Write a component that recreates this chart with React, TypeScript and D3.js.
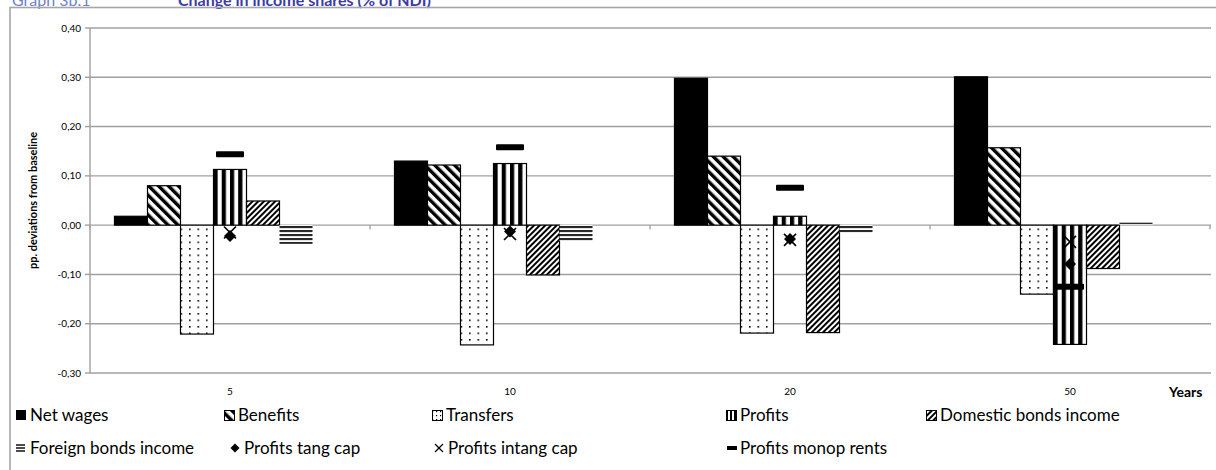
import React from "react";
import * as d3 from "d3";

const categories = ["5", "10", "20", "50"];
const netWages = [0.018, 0.13, 0.298, 0.301];
const benefits = [0.08, 0.122, 0.14, 0.157];
const transfers = [-0.221, -0.243, -0.219, -0.14];
const profits = [0.113, 0.125, 0.018, -0.242];
const domesticBonds = [0.049, -0.101, -0.218, -0.088];
const foreignBonds = [-0.038, -0.032, -0.015, 0.005];
const tangCap = [-0.022, -0.013, -0.028, -0.079];
const intangCap = [-0.015, -0.018, -0.03, -0.034];
const monopRents = [0.144, 0.158, 0.076, -0.125];
const yTicks = [-0.3, -0.2, -0.1, 0, 0.1, 0.2, 0.3, 0.4];

const FONT = "Lato, 'Open Sans', sans-serif";

const barSeries = [
  { key: "nw", name: "Net wages", values: netWages, fill: "#000", stroke: "#000" },
  { key: "ben", name: "Benefits", values: benefits, fill: "url(#pBen)", stroke: "#000" },
  { key: "tr", name: "Transfers", values: transfers, fill: "url(#pTr)", stroke: "#000" },
  { key: "pr", name: "Profits", values: profits, fill: "url(#pPr)", stroke: "#000" },
  { key: "dom", name: "Domestic bonds income", values: domesticBonds, fill: "url(#pDom)", stroke: "#000" },
  { key: "for", name: "Foreign bonds income", values: foreignBonds, fill: "url(#pFor)", stroke: "none" },
];
const slots = [...barSeries.map((s) => s.key), "blank"];

const locale = d3.formatLocale({ decimal: ",", thousands: ".", grouping: [3], currency: ["", ""], minus: "-" });
const fmt = locale.format(".2f");

const diamond = (s: number) => `M0,${-s}L${s},0L0,${s}L${-s},0Z`;

function LegendIcon({ kind }: { kind: string }) {
  switch (kind) {
    case "nw":
      return <rect x={0} y={-5} width={10} height={10} fill="#000" />;
    case "ben":
      return <rect x={0.5} y={-4.5} width={10} height={10} fill="url(#pBen)" stroke="#000" />;
    case "tr":
      return <rect x={0.5} y={-4.5} width={10} height={10} fill="url(#pTrL)" stroke="#000" />;
    case "pr":
      return <rect x={0.5} y={-4.5} width={10} height={10} fill="url(#pPrL)" stroke="#000" />;
    case "dom":
      return <rect x={0.5} y={-4.5} width={10} height={10} fill="url(#pDom)" stroke="#000" />;
    case "for":
      return (
        <g>
          {[-3, 0, 3].map((d) => (
            <rect key={d} x={0} y={d - 0.7} width={9} height={1.4} fill="#000" />
          ))}
        </g>
      );
    case "tang":
      return <path d={diamond(4.5)} transform="translate(5,0)" fill="#000" />;
    case "intang":
      return (
        <g transform="translate(5,0)" stroke="#000" strokeWidth={1.3}>
          <line x1={-4} y1={-4} x2={4} y2={4} />
          <line x1={-4} y1={4} x2={4} y2={-4} />
        </g>
      );
    case "monop":
      return <rect x={1} y={-2} width={10} height={4} fill="#000" />;
  }
  return null;
}

const legendRow1 = [
  { kind: "nw", label: "Net wages", x: 16 },
  { kind: "ben", label: "Benefits", x: 224 },
  { kind: "tr", label: "Transfers", x: 432 },
  { kind: "pr", label: "Profits", x: 726 },
  { kind: "dom", label: "Domestic bonds income", x: 926 },
];
const legendRow2 = [
  { kind: "for", label: "Foreign bonds income", x: 16 },
  { kind: "tang", label: "Profits tang cap", x: 230 },
  { kind: "intang", label: "Profits intang cap", x: 434 },
  { kind: "monop", label: "Profits monop rents", x: 726 },
];

export default function App() {
  const W = 1216;
  const H = 470;
  const left = 90;
  const right = 1210;
  const top = 28;
  const bottom = 373;

  const x0 = d3.scaleBand<string>().domain(categories).range([left, right]).padding(0);
  const x1 = d3
    .scaleBand<string>()
    .domain(slots)
    .range([0, x0.bandwidth()])
    .paddingInner(0)
    .paddingOuter(0.742);
  const y = d3.scaleLinear().domain([-0.3, 0.4]).range([bottom, top]);
  const y0 = y(0);

  const grid = "#a0a0a0";
  const step = x0.bandwidth();
  const trW = step / 33;
  const prW = step / 34;

  return (
    <svg width={W} height={H} style={{ position: "absolute", left: 0, top: 0, background: "#fff" }} fontFamily={FONT}>
      <defs>
        <pattern id="pBen" patternUnits="userSpaceOnUse" width={7} height={7} patternTransform="rotate(-45)">
          <rect x={0} y={0} width={7} height={7} fill="#fff" />
          <rect x={0} y={0} width={3.4} height={7} fill="#000" />
        </pattern>
        <pattern id="pDom" patternUnits="userSpaceOnUse" width={4} height={4} patternTransform="rotate(45)">
          <rect x={0} y={0} width={4} height={4} fill="#fff" />
          <rect x={0} y={0} width={2} height={4} fill="#000" />
        </pattern>
        <pattern id="pPr" patternUnits="userSpaceOnUse" width={prW} height={8} x={7.6}>
          <rect x={0} y={0} width={prW} height={8} fill="#fff" />
          <rect x={0} y={0} width={4.2} height={8} fill="#000" />
        </pattern>
        <pattern id="pPrL" patternUnits="userSpaceOnUse" width={4} height={8} x={0}>
          <rect x={0} y={0} width={4} height={8} fill="#fff" />
          <rect x={0} y={0} width={2} height={8} fill="#000" />
        </pattern>
        <pattern id="pTr" patternUnits="userSpaceOnUse" width={trW} height={6.5} x={2.3} y={1}>
          <rect x={0} y={0} width={trW} height={6.5} fill="#fff" />
          <rect x={0} y={0} width={1.6} height={1.6} fill="#000" />
        </pattern>
        <pattern id="pTrL" patternUnits="userSpaceOnUse" width={4} height={4} x={0} y={0}>
          <rect x={0} y={0} width={4} height={4} fill="#fff" />
          <rect x={0} y={0} width={1.2} height={1.2} fill="#000" />
        </pattern>
        <pattern id="pFor" patternUnits="userSpaceOnUse" width={8} height={4} y={y0 + 1}>
          <rect x={0} y={0} width={8} height={4} fill="#fff" />
          <rect x={0} y={0} width={8} height={1.8} fill="#000" />
        </pattern>
      </defs>

      {/* title (clipped at top) */}
      <text x={12} y={6} fontSize={16} fill="#6e82c8">Graph 3b.1</text>
      <text x={178} y={6} fontSize={16} fontWeight="bold" fill="#3b3ba8">Change in income shares (% of NDI)</text>

      {/* outer frame */}
      <rect x={10} y={7.5} width={1230} height={500} fill="none" stroke="#a6a6a6" strokeWidth={1.6} />

      {/* gridlines */}
      {yTicks.map((t) => (
        <g key={t}>
          <line x1={left} x2={right + 1} y1={y(t)} y2={y(t)} stroke={grid} strokeWidth={1.4} />
          <line x1={left - 5} x2={left} y1={y(t)} y2={y(t)} stroke={grid} strokeWidth={1.4} />
          <text x={left - 9} y={y(t)} dy="0.35em" textAnchor="end" fontSize={10} fill="#000">
            {fmt(t)}
          </text>
        </g>
      ))}
      <line x1={left} x2={left} y1={top} y2={bottom} stroke={grid} strokeWidth={1.4} />

      {/* category ticks on zero line */}
      {[...categories.map((c) => x0(c) as number), right].map((xv, i) => (
        <line key={i} x1={xv} x2={xv} y1={y0} y2={y0 + 4} stroke={grid} strokeWidth={1.4} />
      ))}

      {/* bars */}
      {barSeries.map((s) => (
        <g key={s.key}>
          {s.values.map((v, i) => {
            const bx = (x0(categories[i]) as number) + (x1(s.key) as number);
            const y1 = Math.min(y(v), y0);
            const h = Math.abs(y(v) - y0);
            return (
              <rect
                key={i}
                x={bx}
                y={y1}
                width={x1.bandwidth()}
                height={h}
                fill={s.fill}
                stroke={s.stroke}
                strokeWidth={s.stroke === "none" ? 0 : 1.2}
              />
            );
          })}
        </g>
      ))}

      {/* markers */}
      {tangCap.map((v, i) => (
        <path
          key={"t" + i}
          d={diamond(6)}
          transform={`translate(${(x0(categories[i]) as number) + x0.bandwidth() / 2},${y(v)})`}
          fill="#000"
        />
      ))}
      {intangCap.map((v, i) => (
        <g
          key={"x" + i}
          transform={`translate(${(x0(categories[i]) as number) + x0.bandwidth() / 2},${y(v)})`}
          stroke="#000"
          strokeWidth={1.6}
        >
          <line x1={-6} y1={-6} x2={6} y2={6} />
          <line x1={-6} y1={6} x2={6} y2={-6} />
        </g>
      ))}
      {monopRents.map((v, i) => (
        <rect
          key={"m" + i}
          x={(x0(categories[i]) as number) + x0.bandwidth() / 2 - 14}
          y={y(v) - 3}
          width={28}
          height={6}
          rx={1}
          fill="#000"
        />
      ))}

      {/* x labels */}
      {categories.map((c) => (
        <text key={c} x={(x0(c) as number) + x0.bandwidth() / 2} y={395} textAnchor="middle" fontSize={10}>
          {c}
        </text>
      ))}
      <text x={1169} y={397} fontSize={14} fontWeight="bold">Years</text>

      {/* y title */}
      <text
        transform={`translate(37,${(top + bottom) / 2}) rotate(-90)`}
        textAnchor="middle"
        fontSize={11}
        fontWeight="bold"
      >
        pp. deviations from baseline
      </text>

      {/* legend */}
      {legendRow1.map((l) => (
        <g key={l.label} transform={`translate(${l.x},415)`}>
          <LegendIcon kind={l.kind} />
          <text x={14} dy="0.35em" fontSize={17}>{l.label}</text>
        </g>
      ))}
      {legendRow2.map((l) => (
        <g key={l.label} transform={`translate(${l.x},448)`}>
          <LegendIcon kind={l.kind} />
          <text x={14} dy="0.35em" fontSize={17}>{l.label}</text>
        </g>
      ))}
    </svg>
  );
}
